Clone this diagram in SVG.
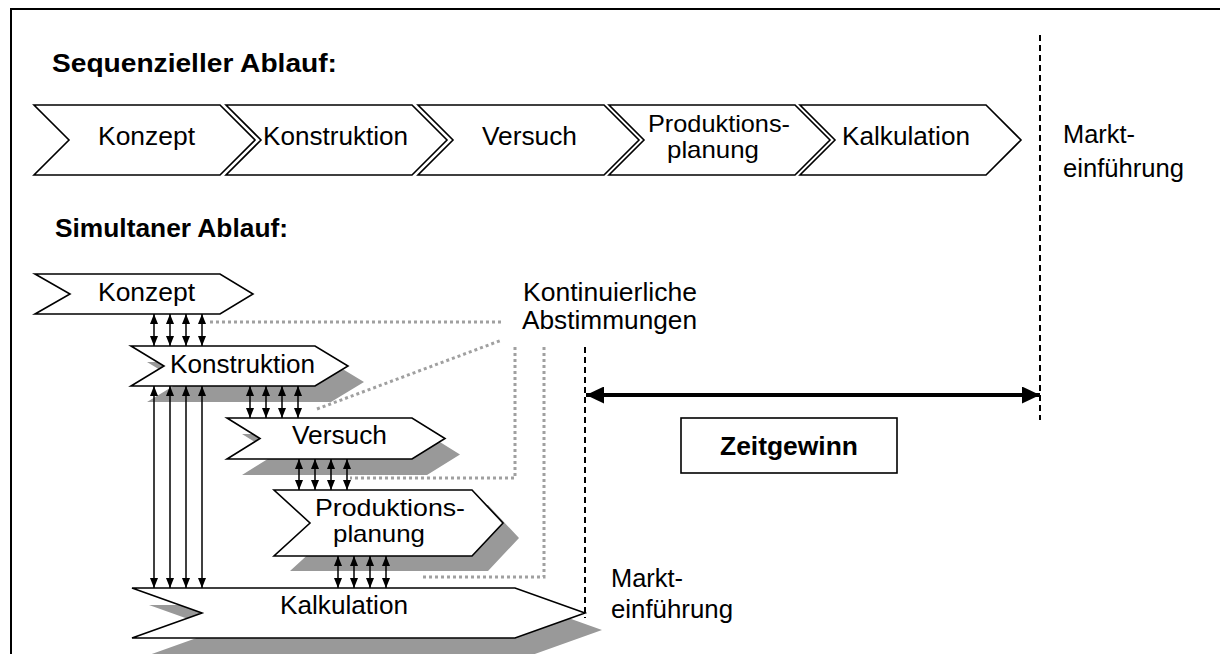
<svg xmlns="http://www.w3.org/2000/svg" width="1220" height="654" viewBox="0 0 1220 654">
<style>
text{font-family:"Liberation Sans",Arial,sans-serif;font-size:25px;fill:#000}
.b{font-weight:bold}
.m{font-size:24px}
.chev{fill:#fff;stroke:#000;stroke-width:1.6;stroke-linejoin:miter}
.shadow{fill:#999;stroke:none}
.dot{fill:none;stroke:#a0a0a0;stroke-width:3;stroke-dasharray:3 3}
.dash{fill:none;stroke:#000;stroke-width:2;stroke-dasharray:6 4}
.arr{stroke:#000;stroke-width:1.5;marker-start:url(#ah);marker-end:url(#ah)}
</style>
<defs>
<marker id="ah" viewBox="0 0 10 8" refX="10" refY="4" markerWidth="10" markerHeight="8" markerUnits="userSpaceOnUse" orient="auto-start-reverse">
<path d="M0,0 L10,4 L0,8 Z" fill="#000"/>
</marker>
<marker id="bh" viewBox="0 0 18 17" refX="18" refY="8.5" markerWidth="18" markerHeight="17" markerUnits="userSpaceOnUse" orient="auto-start-reverse">
<path d="M0,0 L18,8.5 L0,17 Z" fill="#000"/>
</marker>
</defs>
<rect width="1220" height="654" fill="#fff"/>
<g id="frame" fill="none" stroke="#000" stroke-width="2">
<path d="M11,654 L11,9 L1220,9"/>
</g>

<text id="title-seq" class="b" x="52" y="72" textLength="285" lengthAdjust="spacingAndGlyphs">Sequenzieller Ablauf:</text>
<text id="title-sim" class="b" x="55" y="237" textLength="233" lengthAdjust="spacingAndGlyphs">Simultaner Ablauf:</text>

<g id="seq-konzept">
<path class="chev" d="M34,105 L220,105 L255,140 L220,175 L34,175 L69,140 Z"/>
<text x="98" y="145" textLength="97" lengthAdjust="spacingAndGlyphs">Konzept</text>
</g>
<g id="seq-konstruktion">
<path class="chev" d="M226,105 L412,105 L447,140 L412,175 L226,175 L261,140 Z"/>
<text x="263" y="145" textLength="145" lengthAdjust="spacingAndGlyphs">Konstruktion</text>
</g>
<g id="seq-versuch">
<path class="chev" d="M418,105 L604,105 L639,140 L604,175 L418,175 L453,140 Z"/>
<text x="482" y="145" textLength="95" lengthAdjust="spacingAndGlyphs">Versuch</text>
</g>
<g id="seq-produktion">
<path class="chev" d="M609,105 L795,105 L830,140 L795,175 L609,175 L644,140 Z"/>
<text class="m"><tspan x="648" y="132" textLength="142" lengthAdjust="spacingAndGlyphs">Produktions-</tspan><tspan x="667" y="158" textLength="92" lengthAdjust="spacingAndGlyphs">planung</tspan></text>
</g>
<g id="seq-kalkulation">
<path class="chev" d="M800,105 L986,105 L1021,140 L986,175 L800,175 L835,140 Z"/>
<text x="842" y="145" textLength="128" lengthAdjust="spacingAndGlyphs">Kalkulation</text>
</g>
<g id="seq-markt">
<text><tspan x="1063" y="143" textLength="72" lengthAdjust="spacingAndGlyphs">Markt-</tspan><tspan x="1063" y="177" textLength="121" lengthAdjust="spacingAndGlyphs">einführung</tspan></text>
</g>

<g id="sim-konzept">
<path class="chev" d="M35,274 L220,274 L253,294 L220,314 L35,314 L70,294 Z"/>
<text x="98" y="301" textLength="97" lengthAdjust="spacingAndGlyphs">Konzept</text>
</g>
<g id="sim-konstruktion">
<path class="shadow" transform="translate(16,16)" d="M131,346 L315,346 L348,366 L315,386 L131,386 L164,366 Z"/>
<path class="chev" d="M131,346 L315,346 L348,366 L315,386 L131,386 L164,366 Z"/>
<text x="170" y="373" textLength="145" lengthAdjust="spacingAndGlyphs">Konstruktion</text>
</g>
<g id="sim-versuch">
<path class="shadow" transform="translate(15,16)" d="M227,418 L412,418 L445,438.5 L412,459 L227,459 L260,438.5 Z"/>
<path class="chev" d="M227,418 L412,418 L445,438.5 L412,459 L227,459 L260,438.5 Z"/>
<text x="292" y="444" textLength="95" lengthAdjust="spacingAndGlyphs">Versuch</text>
</g>
<g id="sim-produktion">
<path class="shadow" transform="translate(16,15)" d="M274,490 L472,490 L503,523 L472,556 L274,556 L310,523 Z"/>
<path class="chev" d="M274,490 L472,490 L503,523 L472,556 L274,556 L310,523 Z"/>
<text class="m"><tspan x="315" y="516" textLength="150" lengthAdjust="spacingAndGlyphs">Produktions-</tspan><tspan x="333" y="542" textLength="92" lengthAdjust="spacingAndGlyphs">planung</tspan></text>
</g>
<g id="sim-kalkulation">
<path class="shadow" transform="translate(17,17)" d="M132,588 L515,588 L585,613 L515,638 L132,638 L202,613 Z"/>
<path class="chev" d="M132,588 L515,588 L585,613 L515,638 L132,638 L202,613 Z"/>
<text x="280" y="614" textLength="128" lengthAdjust="spacingAndGlyphs">Kalkulation</text>
</g>
<g id="sim-markt">
<text><tspan x="611" y="587" textLength="72" lengthAdjust="spacingAndGlyphs">Markt-</tspan><tspan x="611" y="618" textLength="122" lengthAdjust="spacingAndGlyphs">einführung</tspan></text>
</g>
<g id="abstimmungen">
<text><tspan x="523" y="301" textLength="174" lengthAdjust="spacingAndGlyphs">Kontinuierliche</tspan><tspan x="522" y="329" textLength="175" lengthAdjust="spacingAndGlyphs">Abstimmungen</tspan></text>
</g>
<g id="zeitgewinn">
<rect x="681" y="418" width="216" height="55" fill="#fff" stroke="#000" stroke-width="1.6"/>
<text class="b" x="720" y="455" textLength="138" lengthAdjust="spacingAndGlyphs">Zeitgewinn</text>
</g>

<g id="connectors">
<path class="dash" d="M1040,35 L1040,420"/>
<path class="dash" d="M585,347 L585,618"/>
<path d="M586,395 L1040,395" stroke="#000" stroke-width="4" marker-start="url(#bh)" marker-end="url(#bh)"/>
<path class="dot" d="M210,322 L502,322"/>
<path class="dot" d="M317,409 L502,340"/>
<path class="dot" d="M515,347 L515,478 L350,478"/>
<path class="dot" d="M544,347 L544,577 L422,577"/>
<g>
<path class="arr" d="M154,314 L154,346"/>
<path class="arr" d="M170,314 L170,346"/>
<path class="arr" d="M186,314 L186,346"/>
<path class="arr" d="M202,314 L202,346"/>
</g>
<g>
<path class="arr" d="M154,386 L154,588"/>
<path class="arr" d="M170,386 L170,588"/>
<path class="arr" d="M186,386 L186,588"/>
<path class="arr" d="M202,386 L202,588"/>
</g>
<g>
<path class="arr" d="M250,386 L250,418"/>
<path class="arr" d="M266,386 L266,418"/>
<path class="arr" d="M282,386 L282,418"/>
<path class="arr" d="M298,386 L298,418"/>
</g>
<g>
<path class="arr" d="M299,459 L299,490"/>
<path class="arr" d="M315,459 L315,490"/>
<path class="arr" d="M331,459 L331,490"/>
<path class="arr" d="M347,459 L347,490"/>
</g>
<g>
<path class="arr" d="M338,556 L338,588"/>
<path class="arr" d="M354,556 L354,588"/>
<path class="arr" d="M370,556 L370,588"/>
<path class="arr" d="M386,556 L386,588"/>
</g>
</g>
</svg>
